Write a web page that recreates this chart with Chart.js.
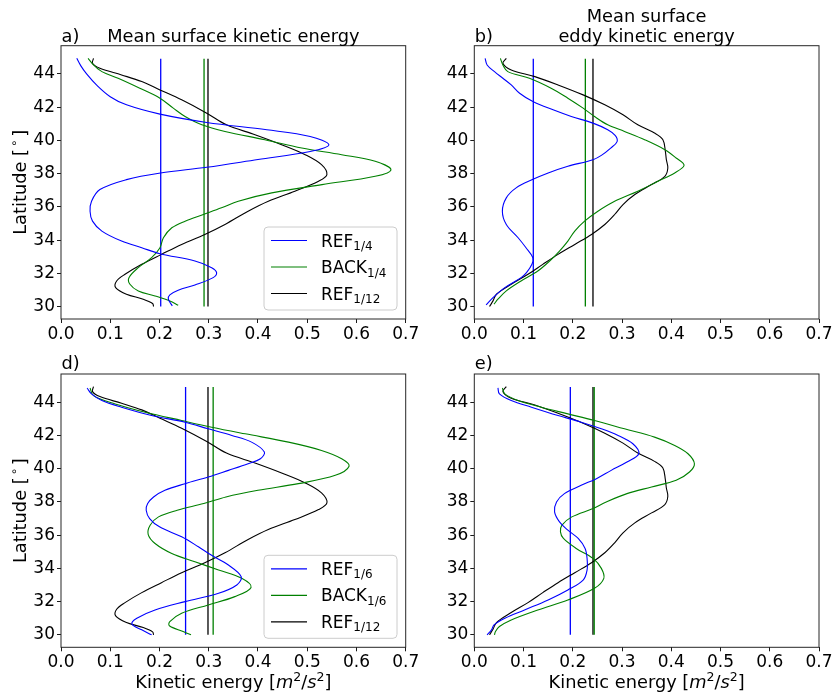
<!DOCTYPE html>
<html><head><meta charset="utf-8">
<script src="https://cdn.jsdelivr.net/npm/chart.js@4.4.1/dist/chart.umd.min.js"></script>
<style>
html,body{margin:0;padding:0;background:#fff;}
#wrap{position:relative;width:836px;height:698px;overflow:hidden;background:#fff;}
canvas{position:absolute;}
</style></head><body>
<div id="wrap">
<canvas id="pa" width="418" height="345" style="left:0px;top:0px"></canvas>
<canvas id="pb" width="418" height="345" style="left:418px;top:0px"></canvas>
<canvas id="pd" width="418" height="353" style="left:0px;top:345px"></canvas>
<canvas id="pe" width="418" height="353" style="left:418px;top:345px"></canvas>
</div>
<script>
// ---------- tick labels ----------
const xTicks = [0, 0.1, 0.2, 0.3, 0.4, 0.5, 0.6, 0.7];
const xTickLabels = ['0.0','0.1','0.2','0.3','0.4','0.5','0.6','0.7'];
const yTicks = [30, 32, 34, 36, 38, 40, 42, 44];
const yTickLabels = ['30','32','34','36','38','40','42','44'];

// ---------- panel a: mean surface KE, 1/4 ----------
const latKeRef4 = [44.94,44.5,44.0,43.34,42.63,42.14,41.58,41.08,40.64,40.24,39.74,39.33,38.85,38.38,38.04,37.64,37.04,36.34,35.74,35.14,34.54,33.94,33.54,33.18,32.74,32.34,32.04,31.74,31.3,30.98,30.7,30.44,30.04];
const keRef4 =    [0.032,0.040,0.052,0.072,0.100,0.133,0.201,0.296,0.418,0.506,0.544,0.506,0.40,0.296,0.202,0.133,0.079,0.062,0.059,0.064,0.083,0.123,0.164,0.201,0.272,0.306,0.316,0.309,0.272,0.238,0.221,0.218,0.226];
const latKeBack4 = [44.94,44.54,44.14,43.74,43.14,42.54,41.94,41.44,40.94,40.54,40.04,39.54,39.14,38.74,38.24,37.84,37.34,36.84,36.34,35.94,35.54,35.14,34.74,34.14,33.54,32.94,32.34,31.74,31.34,30.94,30.64,30.34,30.08];
const keBack4 =    [0.055,0.066,0.083,0.116,0.160,0.201,0.228,0.252,0.286,0.333,0.414,0.489,0.570,0.638,0.670,0.638,0.53,0.428,0.36,0.326,0.289,0.252,0.225,0.208,0.201,0.184,0.157,0.138,0.140,0.157,0.191,0.221,0.238];
const latKeRef12 = [44.94,44.64,44.34,43.94,43.54,43.04,42.44,41.64,40.94,40.34,39.74,39.14,38.54,37.94,37.54,36.94,36.34,35.74,34.94,34.34,33.74,33.14,32.54,31.94,31.54,31.14,30.74,30.44,30.18,30.0];
const keRef12 =    [0.066,0.064,0.079,0.123,0.164,0.201,0.245,0.296,0.336,0.394,0.448,0.496,0.529,0.540,0.523,0.475,0.421,0.38,0.333,0.292,0.245,0.204,0.164,0.130,0.113,0.111,0.133,0.167,0.186,0.188];

// ---------- panel b: mean surface EKE, 1/4 ----------
const latEkeRef4 = [44.94,44.54,44.14,43.74,43.34,42.84,42.34,41.84,41.44,41.04,40.64,40.3,39.93,39.54,39.1,38.84,38.44,38.04,37.64,37.14,36.54,35.74,34.94,34.14,33.54,32.94,32.54,32.04,31.74,31.14,30.54,30.1];
const ekeRef4 =    [0.022,0.026,0.041,0.058,0.075,0.092,0.119,0.160,0.197,0.241,0.271,0.286,0.290,0.277,0.258,0.241,0.19,0.150,0.118,0.085,0.065,0.057,0.065,0.089,0.105,0.119,0.117,0.106,0.095,0.062,0.038,0.024];
const latEkeBack4 = [44.94,44.54,44.14,43.74,43.14,42.54,41.94,41.44,40.94,40.54,40.04,39.44,38.94,38.5,38.04,37.54,36.94,36.34,35.74,35.14,34.54,33.94,33.34,32.74,32.14,31.54,30.94,30.44,30.14];
const ekeBack4 =    [0.053,0.058,0.068,0.112,0.156,0.190,0.221,0.244,0.271,0.305,0.346,0.387,0.410,0.426,0.407,0.373,0.332,0.285,0.251,0.224,0.204,0.19,0.173,0.153,0.129,0.095,0.065,0.048,0.040];
const latEkeRef12 = [44.94,44.64,44.24,43.84,43.34,42.74,42.14,41.54,40.94,40.44,40.04,39.34,38.84,38.34,37.84,37.34,36.74,36.14,35.54,34.94,34.34,33.74,33.14,32.54,31.94,31.34,30.74,30.34,30.0];
const ekeRef12 =    [0.065,0.058,0.075,0.123,0.170,0.221,0.265,0.302,0.332,0.366,0.383,0.388,0.390,0.393,0.387,0.36,0.326,0.302,0.285,0.265,0.238,0.204,0.170,0.139,0.109,0.075,0.045,0.038,0.031];

// ---------- panel d: mean surface KE, 1/6 ----------
const latKeRef6 = [44.86,44.5,44.1,43.7,43.2,42.8,42.4,42.0,41.6,41.0,40.6,40.3,39.9,39.5,39.1,38.7,38.3,37.9,37.5,37.0,36.5,35.9,35.3,34.8,34.2,33.5,33.0,32.5,32.0,31.5,31.0,30.65,30.3,30.0];
const keRef6 =    [0.053,0.062,0.083,0.123,0.184,0.252,0.299,0.347,0.387,0.413,0.405,0.380,0.340,0.299,0.252,0.211,0.188,0.176,0.173,0.180,0.200,0.245,0.279,0.305,0.340,0.366,0.357,0.32,0.252,0.191,0.154,0.144,0.164,0.184];
const latKeBack6 = [44.86,44.4,43.9,43.4,42.9,42.5,42.1,41.6,41.1,40.6,40.15,39.6,39.1,38.7,38.3,37.9,37.5,37.1,36.6,36.05,35.5,34.9,34.4,33.9,33.4,32.85,32.3,31.8,31.3,30.8,30.55,30.2,30.0];
const keBack6 =    [0.059,0.066,0.110,0.171,0.245,0.306,0.374,0.462,0.529,0.570,0.585,0.557,0.482,0.40,0.335,0.29,0.236,0.198,0.181,0.177,0.191,0.225,0.272,0.320,0.367,0.386,0.353,0.299,0.245,0.221,0.220,0.248,0.264];

// ---------- panel e: mean surface EKE, 1/6 ----------
const latEkeRef6 = [44.86,44.5,44.1,43.7,43.2,42.8,42.4,42.0,41.5,40.9,40.4,39.9,39.4,39.0,38.5,38.0,37.4,36.8,36.3,35.8,35.2,34.6,33.9,33.3,32.7,32.1,31.5,31.0,30.6,30.3,30.0];
const ekeRef6 =    [0.048,0.051,0.075,0.116,0.170,0.217,0.258,0.292,0.322,0.334,0.310,0.278,0.248,0.217,0.183,0.167,0.163,0.173,0.190,0.211,0.225,0.229,0.229,0.221,0.190,0.150,0.102,0.062,0.040,0.035,0.026];
const latEkeBack6 = [44.86,44.5,44.1,43.7,43.3,42.9,42.4,41.9,41.4,40.9,40.3,39.8,39.3,38.9,38.5,38.0,37.6,37.1,36.6,36.2,35.8,35.2,34.6,34.0,33.4,32.8,32.1,31.5,30.9,30.5,30.2,30.0];
const ekeBack6 =    [0.057,0.062,0.089,0.136,0.190,0.244,0.305,0.366,0.407,0.434,0.447,0.437,0.41,0.36,0.31,0.268,0.241,0.198,0.178,0.175,0.181,0.207,0.241,0.258,0.263,0.244,0.190,0.129,0.075,0.051,0.043,0.041];

// ---------- domain means (vertical lines): [REF, BACK, REF1/12] ----------
const meanKe4  = [0.2025, 0.2905, 0.2985];
const meanEke4 = [0.1198, 0.2255, 0.2410];
const meanKe6  = [0.253, 0.309, 0.2985];
const meanEke6 = [0.195, 0.2435, 0.2410];
const meanLatRange = [30.0, 44.92];

// ---------- legend texts ----------
const legend4 = [['REF','1/4'],['BACK','1/4'],['REF','1/12']];
const legend6 = [['REF','1/6'],['BACK','1/6'],['REF','1/12']];

const COLORS = ['#0000ff', '#008000', '#000000'];
const FAM = "'DejaVu Sans', 'Liberation Sans', sans-serif";
const FS = 17;     // tick & legend text
const FT = 17.8;   // titles & axis labels

function drawYLabel(ctx, ca) {
  ctx.save();
  const cx = ca.left - 39.5, cy = (ca.top + ca.bottom) / 2;
  ctx.translate(cx, cy);
  ctx.rotate(-Math.PI / 2);
  ctx.fillStyle = '#000';
  ctx.textBaseline = 'middle';
  const f1 = FT + 'px ' + FAM, f2 = '11.5px ' + FAM;
  ctx.font = f1;
  const a = 'Latitude [', b = ']';
  const wa = ctx.measureText(a).width, wb = ctx.measureText(b).width;
  ctx.font = f2;
  const wc = ctx.measureText('\u2218').width;
  const total = wa + 2 + wc + 3 + wb;
  let x = -total / 2;
  ctx.font = f1; ctx.textAlign = 'left';
  ctx.fillText(a, x, 0); x += wa + 2;
  ctx.font = f2; ctx.fillText('\u2218', x, -6); x += wc + 3;
  ctx.font = f1; ctx.fillText(b, x, 0);
  ctx.restore();
}

function drawXLabel(ctx, ca) {
  ctx.save();
  ctx.fillStyle = '#000';
  ctx.textBaseline = 'alphabetic';
  ctx.textAlign = 'left';
  const reg = FT + 'px ' + FAM, ital = 'italic ' + FT + 'px ' + FAM, sup = '12.5px ' + FAM;
  const parts = [['Kinetic energy [', reg, 0], ['m', ital, 0], ['2', sup, -7], ['/', reg, 0], ['s', ital, 0], ['2', sup, -7], [']', reg, 0]];
  let total = 0;
  parts.forEach(p => { ctx.font = p[1]; p.push(ctx.measureText(p[0]).width); total += p[3]; });
  let x = (ca.left + ca.right) / 2 - total / 2;
  const y = ca.bottom + 40.5;
  parts.forEach(p => { ctx.font = p[1]; ctx.fillText(p[0], x, y + p[2]); x += p[3]; });
  ctx.restore();
}

function drawLegend(ctx, ca, labels) {
  const w = 133, h = 83;
  const x0 = ca.right - 8.7 - w, y0 = ca.bottom - 9 - h;
  ctx.save();
  ctx.beginPath();
  if (ctx.roundRect) ctx.roundRect(x0, y0, w, h, 4); else ctx.rect(x0, y0, w, h);
  ctx.fillStyle = 'rgba(255,255,255,0.8)';
  ctx.fill();
  ctx.strokeStyle = '#cccccc';
  ctx.lineWidth = 1;
  ctx.stroke();
  labels.forEach((lab, i) => {
    const cy = y0 + 13.5 + i * 26.5;
    ctx.beginPath();
    ctx.moveTo(x0 + 7, cy); ctx.lineTo(x0 + 43, cy);
    ctx.strokeStyle = COLORS[i]; ctx.lineWidth = 1.2; ctx.stroke();
    ctx.fillStyle = '#000';
    ctx.textAlign = 'left'; ctx.textBaseline = 'alphabetic';
    ctx.font = FS + 'px ' + FAM;
    const tx = x0 + 57, base = cy + 6;
    ctx.fillText(lab[0], tx, base);
    const w0 = ctx.measureText(lab[0]).width;
    ctx.font = '12px ' + FAM;
    ctx.fillText(lab[1], tx + w0, base + 3.5);
  });
  ctx.restore();
}

function makePanel(id, o) {
  const datasets = [];
  o.series.forEach((s, i) => {
    datasets.push({
      label: o.legend ? o.legend[i].join('') : 'series' + i,
      data: s[0].map((lat, k) => ({ x: s[1][k], y: lat })),
      borderColor: COLORS[i], backgroundColor: COLORS[i],
      borderWidth: 1.1, pointRadius: 0, showLine: true, tension: 0.35, fill: false
    });
  });
  o.means.forEach((m, i) => {
    datasets.push({
      label: 'mean' + i,
      data: meanLatRange.map(lat => ({ x: m, y: lat })),
      borderColor: COLORS[i], borderWidth: 1.3, pointRadius: 0, showLine: true, tension: 0, fill: false
    });
  });
  const deco = {
    id: 'deco' + id,
    afterDraw(chart) {
      const ctx = chart.ctx, ca = chart.chartArea;
      ctx.save();
      ctx.strokeStyle = '#262626';
      ctx.lineWidth = 1;
      ctx.strokeRect(ca.left, ca.top, ca.right - ca.left, ca.bottom - ca.top);
      ctx.fillStyle = '#000';
      ctx.font = FT + 'px ' + FAM;
      ctx.textBaseline = 'alphabetic';
      ctx.textAlign = 'left';
      ctx.fillText(o.tag, ca.left + 0.5, ca.top - o.tagGap);
      if (o.title) {
        ctx.textAlign = 'center';
        const cx = (ca.left + ca.right) / 2;
        o.title.forEach((t, i) => ctx.fillText(t, cx, ca.top - 4 - (o.title.length - 1 - i) * 20));
      }
      ctx.restore();
      if (o.ylabel) drawYLabel(ctx, ca);
      if (o.xlabel) drawXLabel(ctx, ca);
      if (o.legend) drawLegend(ctx, ca, o.legend);
    }
  };
  new Chart(document.getElementById(id), {
    type: 'scatter',
    data: { datasets },
    options: {
      responsive: false, animation: false, events: [],
      layout: { padding: { left: 0, top: o.top, right: o.right, bottom: 0 } },
      plugins: { legend: { display: false }, tooltip: { enabled: false }, title: { display: false } },
      scales: {
        x: {
          type: 'linear', position: 'bottom', min: 0, max: 0.7,
          afterBuildTicks: s => { s.ticks = xTicks.map(v => ({ value: v })); },
          afterFit: s => { s.height = o.xh; s.paddingLeft = 0; s.paddingRight = 0; },
          grid: { drawOnChartArea: false, drawTicks: true, tickLength: 4, color: '#000', lineWidth: 0.9 },
          border: { display: false },
          ticks: { font: { family: FAM, size: FS }, color: '#000', padding: 1, maxRotation: 0, autoSkip: false,
                   callback: (v, i) => xTickLabels[i] }
        },
        y: {
          type: 'linear', position: 'left', min: 29.25, max: 45.7,
          afterBuildTicks: s => { s.ticks = yTicks.map(v => ({ value: v })); },
          afterFit: s => { s.width = o.yw; s.paddingTop = 0; s.paddingBottom = 0; },
          grid: { drawOnChartArea: false, drawTicks: true, tickLength: 4, color: '#000', lineWidth: 0.9 },
          border: { display: false },
          ticks: { font: { family: FAM, size: FS }, color: '#000', padding: 2, autoSkip: false,
                   callback: (v, i) => yTickLabels[i] }
        }
      }
    },
    plugins: [deco]
  });
}

makePanel('pa', { series: [[latKeRef4, keRef4], [latKeBack4, keBack4], [latKeRef12, keRef12]], means: meanKe4,
  legend: legend4, tag: 'a)', tagGap: 4, title: ['Mean surface kinetic energy'], ylabel: true, xlabel: false,
  top: 45.7, right: 12.3, yw: 61, xh: 26 });
makePanel('pb', { series: [[latEkeRef4, ekeRef4], [latEkeBack4, ekeBack4], [latEkeRef12, ekeRef12]], means: meanEke4,
  legend: null, tag: 'b)', tagGap: 4, title: ['Mean surface', 'eddy kinetic energy'], ylabel: false, xlabel: false,
  top: 45.7, right: 17, yw: 56.3, xh: 26 });
makePanel('pd', { series: [[latKeRef6, keRef6], [latKeBack6, keBack6], [latKeRef12, keRef12]], means: meanKe6,
  legend: legend6, tag: 'd)', tagGap: 5.5, title: null, ylabel: true, xlabel: true,
  top: 29, right: 12.3, yw: 61, xh: 50.7 });
makePanel('pe', { series: [[latEkeRef6, ekeRef6], [latEkeBack6, ekeBack6], [latEkeRef12, ekeRef12]], means: meanEke6,
  legend: null, tag: 'e)', tagGap: 5.5, title: null, ylabel: false, xlabel: true,
  top: 29, right: 17, yw: 56.3, xh: 50.7 });
</script>
</body></html>
